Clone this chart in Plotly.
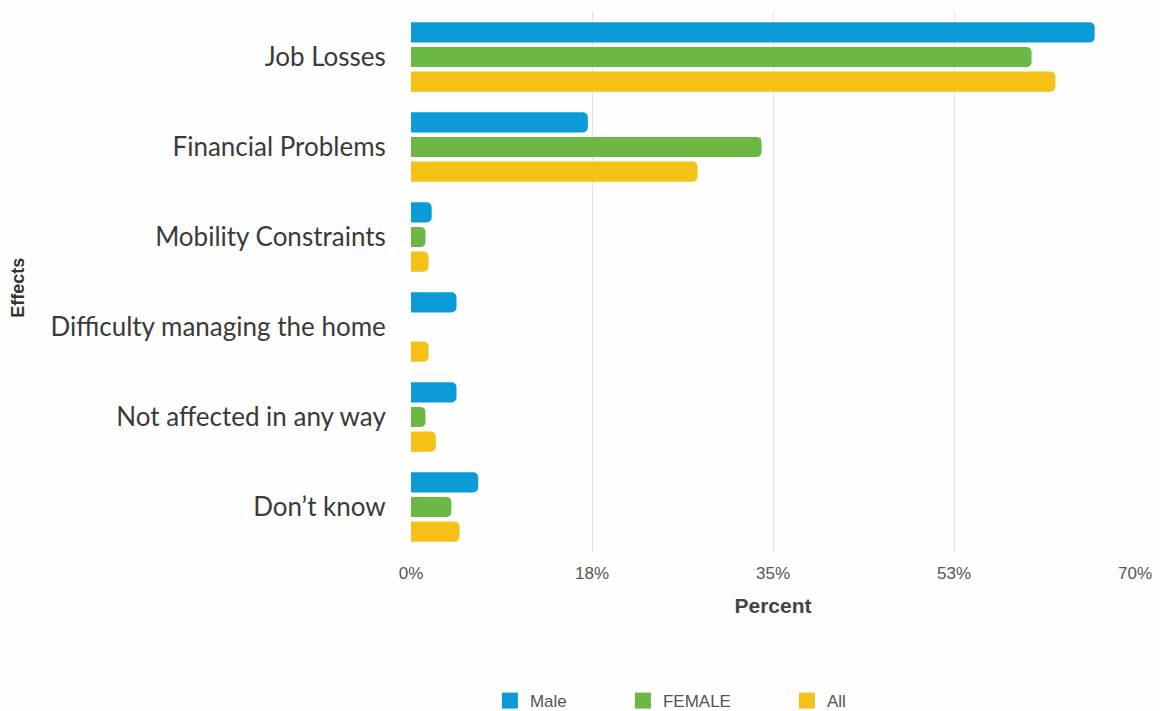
import plotly.graph_objects as go

categories = ["Job Losses", "Financial Problems", "Mobility Constraints",
              "Difficulty managing the home", "Not affected in any way", "Don\u2019t know"]
male = [66.1, 17.1, 2.0, 4.4, 4.4, 6.5]
female = [60.0, 33.9, 1.4, 0.0, 1.4, 3.9]
all_ = [62.3, 27.7, 1.7, 1.7, 2.4, 4.7]
tick_vals = [0, 17.5, 35, 52.5, 70]
tick_text = ["0%", "18%", "35%", "53%", "70%"]

colors = {"Male": "#0b9bd7", "FEMALE": "#6bb844", "All": "#f5c116"}
legend_widths = {"Male": 88, "FEMALE": 119, "All": 40}

fig = go.Figure()
for name, vals in [("Male", male), ("FEMALE", female), ("All", all_)]:
    fig.add_trace(go.Bar(y=categories, x=vals, name=name, orientation="h", showlegend=False,
                         marker=dict(color=colors[name], line=dict(width=0))))
# legend entries with square swatches
for name in ["Male", "FEMALE", "All"]:
    fig.add_trace(go.Scatter(x=[None], y=[None], mode="markers", name=name,
                             legendwidth=legend_widths[name],
                             marker=dict(symbol="square", size=17, color=colors[name])))

fig.update_layout(
    width=1160, height=711,
    paper_bgcolor="#fefefe", plot_bgcolor="#fefefe",
    margin=dict(l=411, r=25, t=12, b=159, autoexpand=False),
    barmode="group", bargap=0.18, bargroupgap=0.18, barcornerradius=5,
    font=dict(family="Liberation Sans, Arial", color="#444"),
    xaxis=dict(range=[0, 70], tickvals=tick_vals, ticktext=tick_text,
               showgrid=True, gridcolor="#e2e2e2", gridwidth=1, zeroline=False,
               tickfont=dict(size=17, color="#555"), ticks="outside", ticklen=6,
               tickcolor="rgba(0,0,0,0)",
               title=dict(text="<b>Percent</b>", font=dict(size=21, color="#444"), standoff=15)),
    yaxis=dict(autorange="reversed", tickfont=dict(family="Lato, Open Sans", size=26, color="#3a3a3a"),
               ticks="outside", ticklen=19, tickcolor="rgba(0,0,0,0)", showgrid=False),
    legend=dict(orientation="h", x=0.109, xanchor="left", yref="container", y=0.014,
                yanchor="middle", font=dict(size=17, color="#555"), itemwidth=30,
                traceorder="normal"),
    annotations=[dict(text="<b>Effects</b>", xref="paper", yref="paper", x=-0.543, y=0.489,
                      xanchor="center", yanchor="middle", textangle=-90, showarrow=False,
                      font=dict(size=18, color="#333"))],
)

fig.write_html("out.html", config={"displayModeBar": False},
               post_script="document.body.style.margin='0';")
